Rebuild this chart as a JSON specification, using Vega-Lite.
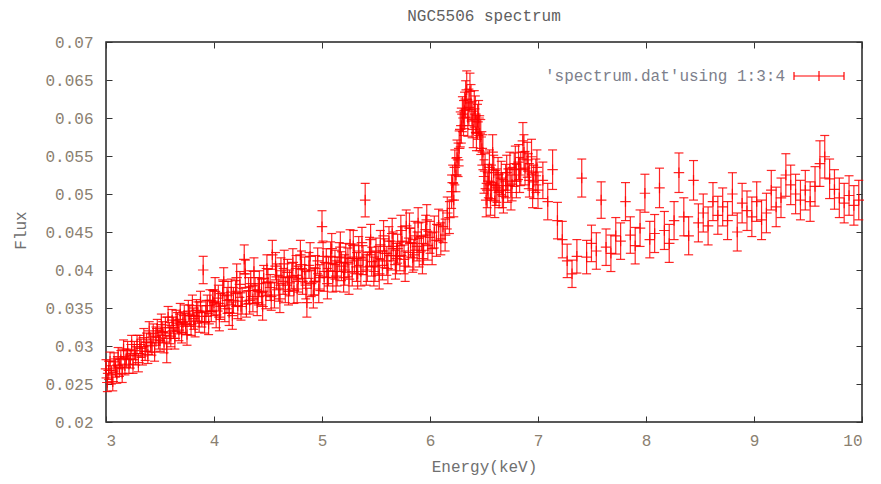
{
 "$schema": "https://vega.github.io/schema/vega-lite/v6.json",
 "width": 756, "height": 380,
 "autosize": {"type": "none"},
 "padding": {"left": 106, "top": 42, "right": 19, "bottom": 62},
 "background": "white",
 "title": {"text": "NGC5506 spectrum", "font": "Liberation Mono", "fontSize": 16, "fontWeight": "normal", "color": "#606060", "offset": 10, "anchor": "middle"},
 "config": {
  "view": {"stroke": "#222222", "strokeWidth": 1.5},
  "axis": {"grid": false, "domain": false, "tickColor": "#333333", "tickWidth": 1, "tickSize": -6,
   "labelFont": "Liberation Mono", "labelFontSize": 16, "labelColor": "#8a8070",
   "titleFont": "Liberation Mono", "titleFontSize": 16, "titleFontWeight": "normal", "titleColor": "#707070"}
 },
 "data": {"values": [
  {"e":3.0,"f":0.027,"d":0.0012},{"e":3.0125,"f":0.0252,"d":0.0012},{"e":3.025,"f":0.0268,"d":0.0012},{"e":3.0375,"f":0.028,"d":0.0012},
  {"e":3.05,"f":0.0262,"d":0.0012},{"e":3.0625,"f":0.0253,"d":0.0012},{"e":3.075,"f":0.0279,"d":0.0012},{"e":3.0875,"f":0.0271,"d":0.0012},
  {"e":3.1,"f":0.0263,"d":0.0012},{"e":3.1125,"f":0.0286,"d":0.0012},{"e":3.125,"f":0.0272,"d":0.0012},{"e":3.1375,"f":0.0282,"d":0.0012},
  {"e":3.15,"f":0.0264,"d":0.0012},{"e":3.1625,"f":0.0296,"d":0.0012},{"e":3.175,"f":0.0274,"d":0.0012},{"e":3.1875,"f":0.0284,"d":0.0012},
  {"e":3.2,"f":0.0294,"d":0.0012},{"e":3.2125,"f":0.0276,"d":0.0012},{"e":3.225,"f":0.0283,"d":0.0012},{"e":3.2375,"f":0.0302,"d":0.0012},
  {"e":3.25,"f":0.0276,"d":0.0012},{"e":3.2625,"f":0.0294,"d":0.0012},{"e":3.275,"f":0.0287,"d":0.0012},{"e":3.2875,"f":0.0302,"d":0.0012},
  {"e":3.3,"f":0.0278,"d":0.0012},{"e":3.3125,"f":0.0302,"d":0.0012},{"e":3.325,"f":0.0297,"d":0.0012},{"e":3.3375,"f":0.0287,"d":0.0012},
  {"e":3.35,"f":0.0311,"d":0.0012},{"e":3.3625,"f":0.0293,"d":0.0012},{"e":3.375,"f":0.0305,"d":0.0012},{"e":3.3875,"f":0.0289,"d":0.0012},
  {"e":3.4,"f":0.032,"d":0.0012},{"e":3.4125,"f":0.0304,"d":0.0012},{"e":3.425,"f":0.03,"d":0.0012},{"e":3.4375,"f":0.0317,"d":0.0012},
  {"e":3.45,"f":0.0292,"d":0.0012},{"e":3.4625,"f":0.0313,"d":0.0012},{"e":3.475,"f":0.0323,"d":0.0012},{"e":3.4875,"f":0.0308,"d":0.0012},
  {"e":3.5,"f":0.0307,"d":0.0014},{"e":3.5125,"f":0.0328,"d":0.0014},{"e":3.525,"f":0.0318,"d":0.0014},{"e":3.5375,"f":0.0305,"d":0.0014},
  {"e":3.55,"f":0.0324,"d":0.0014},{"e":3.5625,"f":0.0296,"d":0.0018},{"e":3.575,"f":0.0338,"d":0.0014},{"e":3.5875,"f":0.0317,"d":0.0014},
  {"e":3.6,"f":0.0313,"d":0.0014},{"e":3.6125,"f":0.0334,"d":0.0014},{"e":3.625,"f":0.0324,"d":0.0014},{"e":3.6375,"f":0.031,"d":0.0014},
  {"e":3.65,"f":0.0333,"d":0.0014},{"e":3.6625,"f":0.033,"d":0.0014},{"e":3.675,"f":0.0321,"d":0.0014},{"e":3.6875,"f":0.0342,"d":0.0014},
  {"e":3.7,"f":0.0318,"d":0.0014},{"e":3.7125,"f":0.0331,"d":0.0014},{"e":3.725,"f":0.034,"d":0.0014},{"e":3.7375,"f":0.0329,"d":0.0014},
  {"e":3.75,"f":0.0315,"d":0.0014},{"e":3.7625,"f":0.0346,"d":0.0014},{"e":3.775,"f":0.034,"d":0.0014},{"e":3.7875,"f":0.0328,"d":0.0014},
  {"e":3.8,"f":0.0353,"d":0.0014},{"e":3.8125,"f":0.0336,"d":0.0014},{"e":3.825,"f":0.0326,"d":0.0014},{"e":3.8375,"f":0.0347,"d":0.0014},
  {"e":3.85,"f":0.0344,"d":0.0014},{"e":3.8625,"f":0.0332,"d":0.0014},{"e":3.875,"f":0.0358,"d":0.0014},{"e":3.8875,"f":0.0339,"d":0.0014},
  {"e":3.9,"f":0.04,"d":0.0018},{"e":3.9125,"f":0.0331,"d":0.0014},{"e":3.925,"f":0.0346,"d":0.0014},{"e":3.9375,"f":0.0353,"d":0.0014},
  {"e":3.95,"f":0.0329,"d":0.0014},{"e":3.9625,"f":0.036,"d":0.0014},{"e":3.975,"f":0.0346,"d":0.0014},{"e":3.9875,"f":0.0359,"d":0.0014},
  {"e":4.0,"f":0.0357,"d":0.0017},{"e":4.02,"f":0.0341,"d":0.0017},{"e":4.04,"f":0.0363,"d":0.0017},{"e":4.06,"f":0.0352,"d":0.0017},
  {"e":4.08,"f":0.037,"d":0.0017},{"e":4.1,"f":0.0349,"d":0.0017},{"e":4.12,"f":0.036,"d":0.0017},{"e":4.14,"f":0.0344,"d":0.0017},
  {"e":4.16,"f":0.0371,"d":0.0017},{"e":4.18,"f":0.036,"d":0.0017},{"e":4.2,"f":0.0369,"d":0.0017},{"e":4.22,"f":0.0353,"d":0.0017},
  {"e":4.24,"f":0.0381,"d":0.0017},{"e":4.26,"f":0.0359,"d":0.0017},{"e":4.28,"f":0.0414,"d":0.0019},{"e":4.3,"f":0.0355,"d":0.0017},
  {"e":4.32,"f":0.0373,"d":0.0017},{"e":4.34,"f":0.0382,"d":0.0017},{"e":4.36,"f":0.0362,"d":0.0017},{"e":4.38,"f":0.0373,"d":0.0017},
  {"e":4.4,"f":0.0357,"d":0.0017},{"e":4.42,"f":0.0382,"d":0.0017},{"e":4.44,"f":0.0371,"d":0.0017},{"e":4.46,"f":0.0389,"d":0.0017},
  {"e":4.48,"f":0.0366,"d":0.0017},{"e":4.5,"f":0.0384,"d":0.0017},{"e":4.52,"f":0.0377,"d":0.0017},{"e":4.54,"f":0.042,"d":0.0019},
  {"e":4.56,"f":0.0367,"d":0.0017},{"e":4.58,"f":0.0391,"d":0.0017},{"e":4.6,"f":0.0376,"d":0.0017},{"e":4.62,"f":0.0399,"d":0.0017},
  {"e":4.64,"f":0.0385,"d":0.0017},{"e":4.66,"f":0.0374,"d":0.0017},{"e":4.68,"f":0.0397,"d":0.0017},{"e":4.7,"f":0.0383,"d":0.0017},
  {"e":4.72,"f":0.0392,"d":0.0017},{"e":4.74,"f":0.0373,"d":0.0017},{"e":4.76,"f":0.0402,"d":0.0017},{"e":4.78,"f":0.0388,"d":0.0017},
  {"e":4.8,"f":0.042,"d":0.0019},{"e":4.82,"f":0.0385,"d":0.0017},{"e":4.84,"f":0.04,"d":0.0017},{"e":4.86,"f":0.0357,"d":0.0019},
  {"e":4.88,"f":0.0406,"d":0.0017},{"e":4.9,"f":0.0382,"d":0.0017},{"e":4.92,"f":0.0367,"d":0.0017},{"e":4.94,"f":0.0402,"d":0.0017},
  {"e":4.96,"f":0.0412,"d":0.0017},{"e":4.98,"f":0.039,"d":0.0017},
  {"e":4.01,"f":0.0372,"d":0.0018},{"e":4.05,"f":0.0338,"d":0.0018},{"e":4.09,"f":0.0385,"d":0.0018},{"e":4.13,"f":0.0367,"d":0.0018},
  {"e":4.17,"f":0.034,"d":0.0018},{"e":4.21,"f":0.039,"d":0.0018},{"e":4.25,"f":0.0352,"d":0.0018},{"e":4.29,"f":0.0395,"d":0.0018},
  {"e":4.33,"f":0.036,"d":0.0018},{"e":4.37,"f":0.0398,"d":0.0018},{"e":4.41,"f":0.0372,"d":0.0018},{"e":4.45,"f":0.0352,"d":0.0018},
  {"e":4.49,"f":0.0402,"d":0.0018},{"e":4.53,"f":0.0365,"d":0.0018},{"e":4.57,"f":0.0405,"d":0.0018},{"e":4.61,"f":0.0362,"d":0.0018},
  {"e":4.65,"f":0.0408,"d":0.0018},{"e":4.69,"f":0.0372,"d":0.0018},{"e":4.73,"f":0.041,"d":0.0018},{"e":4.77,"f":0.0375,"d":0.0018},
  {"e":4.81,"f":0.0407,"d":0.0018},{"e":4.85,"f":0.038,"d":0.0018},{"e":4.89,"f":0.0418,"d":0.0018},{"e":4.93,"f":0.0385,"d":0.0018},
  {"e":4.97,"f":0.0375,"d":0.0018},
  {"e":5.0,"f":0.0457,"d":0.0021},{"e":5.02,"f":0.0391,"d":0.0019},{"e":5.04,"f":0.0409,"d":0.0019},{"e":5.06,"f":0.0398,"d":0.0019},
  {"e":5.08,"f":0.0418,"d":0.0019},{"e":5.1,"f":0.039,"d":0.0019},{"e":5.12,"f":0.0407,"d":0.0019},{"e":5.14,"f":0.0398,"d":0.0019},
  {"e":5.16,"f":0.0417,"d":0.0019},{"e":5.18,"f":0.0405,"d":0.0019},{"e":5.2,"f":0.039,"d":0.0019},{"e":5.22,"f":0.0416,"d":0.0019},
  {"e":5.24,"f":0.041,"d":0.0019},{"e":5.26,"f":0.0434,"d":0.0019},{"e":5.28,"f":0.0398,"d":0.0019},{"e":5.3,"f":0.0415,"d":0.0019},
  {"e":5.32,"f":0.0404,"d":0.0019},{"e":5.34,"f":0.0425,"d":0.0019},{"e":5.36,"f":0.0398,"d":0.0019},{"e":5.38,"f":0.0413,"d":0.0019},
  {"e":5.4,"f":0.0492,"d":0.0022},{"e":5.42,"f":0.0404,"d":0.0019},{"e":5.44,"f":0.0424,"d":0.0019},{"e":5.46,"f":0.0411,"d":0.0019},
  {"e":5.48,"f":0.0398,"d":0.0019},{"e":5.5,"f":0.0423,"d":0.0019},{"e":5.52,"f":0.0412,"d":0.0019},{"e":5.54,"f":0.0433,"d":0.0019},
  {"e":5.56,"f":0.0406,"d":0.0019},{"e":5.58,"f":0.0422,"d":0.0019},{"e":5.6,"f":0.0412,"d":0.0019},{"e":5.62,"f":0.0438,"d":0.0019},
  {"e":5.64,"f":0.0419,"d":0.0019},{"e":5.66,"f":0.0431,"d":0.0019},{"e":5.68,"f":0.0407,"d":0.0019},{"e":5.7,"f":0.0428,"d":0.0019},
  {"e":5.72,"f":0.0418,"d":0.0019},{"e":5.74,"f":0.0438,"d":0.0019},{"e":5.76,"f":0.0414,"d":0.0019},{"e":5.78,"f":0.0458,"d":0.0021},
  {"e":5.8,"f":0.0423,"d":0.0019},{"e":5.82,"f":0.0436,"d":0.0019},{"e":5.84,"f":0.0416,"d":0.0019},{"e":5.86,"f":0.0445,"d":0.0019},
  {"e":5.88,"f":0.0431,"d":0.0019},{"e":5.9,"f":0.0423,"d":0.0019},{"e":5.92,"f":0.0444,"d":0.0019},{"e":5.94,"f":0.0426,"d":0.0019},
  {"e":5.96,"f":0.0453,"d":0.0019},{"e":5.98,"f":0.0432,"d":0.0019},
  {"e":5.01,"f":0.0418,"d":0.002},{"e":5.05,"f":0.0382,"d":0.002},{"e":5.09,"f":0.0428,"d":0.002},{"e":5.13,"f":0.0392,"d":0.002},
  {"e":5.17,"f":0.043,"d":0.002},{"e":5.21,"f":0.04,"d":0.002},{"e":5.25,"f":0.0388,"d":0.002},{"e":5.29,"f":0.0432,"d":0.002},
  {"e":5.33,"f":0.0395,"d":0.002},{"e":5.37,"f":0.0436,"d":0.002},{"e":5.41,"f":0.04,"d":0.002},{"e":5.45,"f":0.044,"d":0.002},
  {"e":5.49,"f":0.0405,"d":0.002},{"e":5.53,"f":0.0395,"d":0.002},{"e":5.57,"f":0.0445,"d":0.002},{"e":5.61,"f":0.0402,"d":0.002},
  {"e":5.65,"f":0.0448,"d":0.002},{"e":5.69,"f":0.0415,"d":0.002},{"e":5.73,"f":0.0452,"d":0.002},{"e":5.77,"f":0.0405,"d":0.002},
  {"e":5.81,"f":0.0455,"d":0.002},{"e":5.85,"f":0.042,"d":0.002},{"e":5.89,"f":0.0462,"d":0.002},{"e":5.93,"f":0.0415,"d":0.002},
  {"e":5.97,"f":0.0466,"d":0.002},
  {"e":6.0,"f":0.0443,"d":0.0021},{"e":6.02,"f":0.0428,"d":0.0021},{"e":6.04,"f":0.045,"d":0.0021},{"e":6.06,"f":0.0439,"d":0.0021},
  {"e":6.08,"f":0.0459,"d":0.0021},{"e":6.1,"f":0.0441,"d":0.0021},{"e":6.12,"f":0.0457,"d":0.0021},{"e":6.14,"f":0.0446,"d":0.0021},
  {"e":6.16,"f":0.0475,"d":0.0021},{"e":6.18,"f":0.0469,"d":0.0021},{"e":6.2,"f":0.0503,"d":0.0022},{"e":6.22,"f":0.0492,"d":0.0022},
  {"e":6.24,"f":0.0525,"d":0.0022},{"e":6.26,"f":0.0545,"d":0.0022},{"e":6.28,"f":0.0585,"d":0.0023},{"e":6.3,"f":0.0605,"d":0.0023},
  {"e":6.32,"f":0.061,"d":0.0024},{"e":6.34,"f":0.0637,"d":0.0025},{"e":6.36,"f":0.0614,"d":0.0024},{"e":6.38,"f":0.062,"d":0.0024},
  {"e":6.4,"f":0.0585,"d":0.0024},{"e":6.42,"f":0.0605,"d":0.0024},{"e":6.44,"f":0.0595,"d":0.0023},{"e":6.46,"f":0.058,"d":0.0023},
  {"e":6.48,"f":0.056,"d":0.0022},{"e":6.5,"f":0.0523,"d":0.0022},{"e":6.52,"f":0.0492,"d":0.0022},{"e":6.54,"f":0.0517,"d":0.0022},
  {"e":6.56,"f":0.0494,"d":0.0022},{"e":6.58,"f":0.0555,"d":0.0023},{"e":6.6,"f":0.0491,"d":0.0022},{"e":6.62,"f":0.0511,"d":0.0022},
  {"e":6.64,"f":0.0504,"d":0.0022},{"e":6.66,"f":0.0521,"d":0.0022},{"e":6.68,"f":0.0497,"d":0.0022},{"e":6.7,"f":0.0517,"d":0.0022},
  {"e":6.72,"f":0.0511,"d":0.0022},{"e":6.74,"f":0.0533,"d":0.0022},{"e":6.76,"f":0.0513,"d":0.0022},{"e":6.78,"f":0.0532,"d":0.0022},
  {"e":6.8,"f":0.0517,"d":0.0022},{"e":6.82,"f":0.0542,"d":0.0023},{"e":6.84,"f":0.0533,"d":0.0022},{"e":6.86,"f":0.057,"d":0.0024},
  {"e":6.88,"f":0.0534,"d":0.0022},{"e":6.9,"f":0.0545,"d":0.0023},{"e":6.92,"f":0.0518,"d":0.0022},{"e":6.94,"f":0.0549,"d":0.0023},
  {"e":6.96,"f":0.0516,"d":0.0022},{"e":6.98,"f":0.0524,"d":0.0022},
  {"e":6.21,"f":0.0515,"d":0.0023},{"e":6.23,"f":0.0535,"d":0.0023},{"e":6.25,"f":0.0548,"d":0.0023},{"e":6.27,"f":0.056,"d":0.0023},
  {"e":6.29,"f":0.059,"d":0.0023},{"e":6.31,"f":0.06,"d":0.0023},{"e":6.33,"f":0.0625,"d":0.0024},{"e":6.35,"f":0.06,"d":0.0024},
  {"e":6.37,"f":0.0635,"d":0.0024},{"e":6.39,"f":0.0598,"d":0.0024},{"e":6.41,"f":0.0612,"d":0.0024},{"e":6.43,"f":0.058,"d":0.0023},
  {"e":6.45,"f":0.06,"d":0.0023},{"e":6.47,"f":0.0575,"d":0.0023},{"e":6.49,"f":0.0555,"d":0.0023},{"e":6.51,"f":0.053,"d":0.0023},
  {"e":6.53,"f":0.0505,"d":0.0023},{"e":6.55,"f":0.0535,"d":0.0023},{"e":6.57,"f":0.0515,"d":0.0023},{"e":6.59,"f":0.0528,"d":0.0023},
  {"e":6.61,"f":0.0508,"d":0.0023},{"e":6.63,"f":0.0525,"d":0.0023},{"e":6.67,"f":0.0505,"d":0.0023},{"e":6.71,"f":0.0528,"d":0.0023},
  {"e":6.75,"f":0.0502,"d":0.0023},{"e":6.79,"f":0.054,"d":0.0023},{"e":6.83,"f":0.0525,"d":0.0023},{"e":6.87,"f":0.0555,"d":0.0023},
  {"e":6.91,"f":0.053,"d":0.0023},{"e":6.95,"f":0.0505,"d":0.0023},{"e":6.99,"f":0.0535,"d":0.0023},
  {"e":7.0,"f":0.0505,"d":0.0024},{"e":7.045,"f":0.0518,"d":0.0024},{"e":7.09,"f":0.049,"d":0.0024},{"e":7.135,"f":0.0532,"d":0.0026},
  {"e":7.18,"f":0.0465,"d":0.0024},{"e":7.225,"f":0.044,"d":0.0024},{"e":7.27,"f":0.0412,"d":0.0022},{"e":7.315,"f":0.0395,"d":0.0018},
  {"e":7.36,"f":0.0418,"d":0.0022},{"e":7.405,"f":0.0521,"d":0.0025},{"e":7.45,"f":0.0417,"d":0.0022},{"e":7.495,"f":0.0435,"d":0.0024},
  {"e":7.54,"f":0.0425,"d":0.0024},{"e":7.585,"f":0.0492,"d":0.0024},{"e":7.63,"f":0.043,"d":0.0024},{"e":7.675,"f":0.0422,"d":0.0024},
  {"e":7.72,"f":0.0445,"d":0.0024},{"e":7.765,"f":0.0438,"d":0.0024},{"e":7.81,"f":0.049,"d":0.0025},{"e":7.855,"f":0.0446,"d":0.0024},
  {"e":7.9,"f":0.0432,"d":0.0024},{"e":7.945,"f":0.0455,"d":0.0024},{"e":7.99,"f":0.0501,"d":0.0025},{"e":8.035,"f":0.044,"d":0.0024},
  {"e":8.08,"f":0.0448,"d":0.0025},{"e":8.125,"f":0.0508,"d":0.0026},{"e":8.17,"f":0.0452,"d":0.0025},{"e":8.215,"f":0.0435,"d":0.0025},
  {"e":8.26,"f":0.0465,"d":0.0025},{"e":8.305,"f":0.0528,"d":0.0026},{"e":8.35,"f":0.047,"d":0.0025},{"e":8.395,"f":0.0445,"d":0.0025},
  {"e":8.44,"f":0.0518,"d":0.0026},{"e":8.485,"f":0.0462,"d":0.0025},{"e":8.53,"f":0.0475,"d":0.0025},{"e":8.575,"f":0.0458,"d":0.0025},
  {"e":8.62,"f":0.049,"d":0.0025},{"e":8.665,"f":0.0472,"d":0.0025},{"e":8.71,"f":0.0483,"d":0.0025},{"e":8.755,"f":0.0465,"d":0.0025},
  {"e":8.8,"f":0.05,"d":0.0028},{"e":8.845,"f":0.045,"d":0.0025},{"e":8.89,"f":0.0488,"d":0.0026},{"e":8.935,"f":0.0478,"d":0.0026},
  {"e":8.98,"f":0.047,"d":0.0026},{"e":9.025,"f":0.049,"d":0.0026},{"e":9.07,"f":0.0466,"d":0.0026},{"e":9.115,"f":0.0475,"d":0.0026},
  {"e":9.16,"f":0.0505,"d":0.0026},{"e":9.205,"f":0.0483,"d":0.0026},{"e":9.25,"f":0.0495,"d":0.0026},{"e":9.295,"f":0.0525,"d":0.0028},
  {"e":9.34,"f":0.0512,"d":0.0026},{"e":9.385,"f":0.05,"d":0.0026},{"e":9.43,"f":0.0492,"d":0.0026},{"e":9.475,"f":0.0505,"d":0.0026},
  {"e":9.52,"f":0.049,"d":0.0026},{"e":9.565,"f":0.051,"d":0.0026},{"e":9.61,"f":0.054,"d":0.003},{"e":9.655,"f":0.0549,"d":0.0028},
  {"e":9.7,"f":0.052,"d":0.0026},{"e":9.745,"f":0.0506,"d":0.0026},{"e":9.79,"f":0.0495,"d":0.0026},{"e":9.835,"f":0.0488,"d":0.0026},
  {"e":9.88,"f":0.0498,"d":0.0026},{"e":9.925,"f":0.0485,"d":0.0026},{"e":9.97,"f":0.0492,"d":0.0026}
 ]},
 "layer": [
  {
   "mark": {"type": "errorbar", "ticks": {"size": 9, "color": "#ff0000", "opacity": 0.85, "thickness": 1.2}, "color": "#ff0000", "thickness": 1.2, "opacity": 0.85},
   "encoding": {
    "x": {"field": "e", "type": "quantitative", "scale": {"domain": [3, 10], "nice": false, "zero": false},
     "axis": {"orient": "bottom", "values": [3,4,5,6,7,8,9,10], "format": "d", "labelPadding": 16, "title": "Energy(keV)", "titleY": 44, "titleBaseline": "middle"}},
    "y": {"field": "f", "type": "quantitative", "scale": {"domain": [0.02, 0.07], "nice": false, "zero": false},
     "axis": {"orient": "left", "values": [0.02,0.025,0.03,0.035,0.04,0.045,0.05,0.055,0.06,0.065,0.07], "format": ".3~f", "labelPadding": 19, "title": "Flux", "titleX": -86, "titleY": 188, "titleAngle": -90, "titleBaseline": "middle", "titleAlign": "center"}},
    "yError": {"field": "d"}
   }
  },
  {
   "mark": {"type": "point", "shape": "M-1,0H1M0,-1V1", "filled": false, "size": 110, "strokeWidth": 1.2, "opacity": 0.85},
   "encoding": {
    "x": {"field": "e", "type": "quantitative", "axis": {"orient": "top", "values": [3,4,5,6,7,8,9,10], "labels": false, "title": null}},
    "y": {"field": "f", "type": "quantitative", "axis": {"orient": "right", "values": [0.02,0.025,0.03,0.035,0.04,0.045,0.05,0.055,0.06,0.065,0.07], "labels": false, "title": null}},
    "color": {"datum": "'spectrum.dat'using 1:3:4", "type": "nominal", "scale": {"range": ["#ff0000"]},
     "legend": {"title": null, "orient": "none", "legendX": 687, "legendY": 8, "padding": 0,
      "symbolType": "M-1,0H1M-1,-0.16V0.16M1,-0.16V0.16M0,-0.2V0.2", "symbolSize": 2500, "symbolStrokeWidth": 1.2, "symbolStrokeColor": "#ff0000", "symbolFillColor": "transparent", "symbolOpacity": 1,
      "labelFont": "Liberation Mono", "labelFontSize": 16, "labelColor": "#7d7f8c", "labelAlign": "right", "labelOffset": -60, "labelLimit": 400}}
   }
  }
 ],
 "resolve": {"axis": {"x": "independent", "y": "independent"}}
}
